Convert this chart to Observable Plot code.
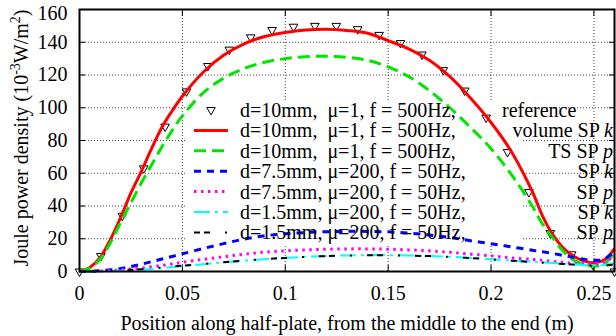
<!DOCTYPE html>
<html><head><meta charset="utf-8">
<script src="https://cdn.jsdelivr.net/npm/d3@7"></script>
<script src="https://cdn.jsdelivr.net/npm/@observablehq/plot@0.6"></script>
<style>body{margin:0;background:#fff}</style>
</head><body><div id="chart"></div>
<script>
// sampling positions (m)
const xPos = [0, 0.005, 0.01, 0.015, 0.02, 0.025, 0.03, 0.035, 0.04, 0.045, 0.05,
  0.06, 0.07, 0.08, 0.09, 0.1, 0.11, 0.12, 0.13, 0.14, 0.15, 0.16, 0.17, 0.18, 0.19, 0.2, 0.21,
  0.22, 0.225, 0.23, 0.235, 0.24, 0.245, 0.25, 0.255, 0.26];
// d=10mm, mu=1, 500Hz, volume SP k
const d10VolumeK = [0, 2.5, 8.5, 19.5, 33, 48, 61, 75, 88, 98, 107,
  121.5, 132, 139, 143.5, 146, 147.5, 148, 147.2, 145.5, 141, 136, 129, 119, 106, 91, 73,
  49, 34, 22.5, 14.5, 9.5, 6.5, 5.3, 7, 14];
// d=10mm, mu=1, 500Hz, TS SP p
const d10TSp = [0, 2, 7.5, 17.5, 30, 42, 54, 65, 76, 86, 95,
  109, 118, 124, 127.8, 130, 131.2, 131.5, 130.8, 129, 125, 119, 110.5, 100, 88, 75, 59,
  40, 29, 20.5, 12.5, 7, 4.5, 3.3, 4.5, 12];
// d=7.5mm, mu=200, 50Hz, SP k
const d75k = [0, 0.1, 0.5, 1, 1.8, 3, 4.4, 6, 7.6, 9.2, 10.8,
  14, 17, 19.8, 21.8, 23, 23.8, 24.3, 24.5, 24.5, 24.2, 23.5, 22.3, 20.8, 18.8, 17, 15,
  13, 12, 11, 9.8, 8.7, 7.5, 6.8, 7.5, 12.5];
// d=7.5mm, mu=200, 50Hz, SP p
const d75p = [0, 0.05, 0.3, 0.6, 1, 1.5, 2.1, 2.9, 3.7, 4.6, 5.6,
  7.4, 9, 10.6, 11.8, 12.6, 13.2, 13.6, 13.8, 13.8, 13.6, 13.2, 12.6, 11.7, 10.6, 9.6, 8.3,
  7.4, 6.8, 6.2, 5.6, 5.1, 4.8, 4.8, 5.8, 9.5];
// d=1.5mm, mu=200, 50Hz, SP k
const d15k = [0, 0, 0.1, 0.3, 0.5, 0.8, 1.2, 1.6, 2.1, 2.7, 3.3,
  4.4, 5.6, 6.6, 7.5, 8.3, 9, 9.5, 9.8, 10, 10, 9.8, 9.5, 9, 8.3, 7.5, 6.7,
  6, 5.6, 5.2, 4.8, 4.4, 4, 3.8, 4, 5];
// d=1.5mm, mu=200, 50Hz, SP p
const d15p = [0, 0, 0.1, 0.3, 0.6, 1, 1.4, 1.9, 2.4, 3, 3.6,
  4.6, 5.7, 6.7, 7.6, 8.3, 8.9, 9.4, 9.7, 9.9, 9.9, 9.7, 9.4, 8.9, 8.2, 7.4, 6.6,
  5.8, 5.4, 5, 4.6, 4.2, 3.8, 3.5, 3.6, 4.2];
// reference (triangles)
const refX = [0, 0.0104, 0.0208, 0.0312, 0.0416, 0.052, 0.0624, 0.0728, 0.0832, 0.0936, 0.104, 0.1144, 0.1248,
  0.1352, 0.1456, 0.156, 0.1664, 0.1768, 0.1872, 0.1976, 0.208, 0.2184, 0.2288, 0.2392, 0.2496, 0.26];
const refY = [0, 9.5, 34, 63, 88.5, 110, 125.5, 135.5, 143, 147.5, 149.5, 150, 150,
  148, 144.5, 139.5, 132.5, 123, 110.5, 94, 73, 48.5, 23.5, 10.5, 4, 0];

const xTicks = [0, 0.05, 0.1, 0.15, 0.2, 0.25];
const yTicks = [0, 20, 40, 60, 80, 100, 120, 140, 160];
const yTopTick = [160];
const xGrid = [0.05, 0.1, 0.15, 0.2, 0.25];
const yGrid = [20, 40, 60, 80, 100, 120, 140];

const legendLeft = ["d=10mm,  \u03bc=1, f = 500Hz,", "d=10mm,  \u03bc=1, f = 500Hz,", "d=10mm,  \u03bc=1, f = 500Hz,",
  "d=7.5mm, \u03bc=200, f = 50Hz,", "d=7.5mm, \u03bc=200, f = 50Hz,", "d=1.5mm, \u03bc=200, f = 50Hz,", "d=1.5mm, \u03bc=200, f = 50Hz,"];
const legendRight = ["reference", "volume SP ", "TS SP ", "SP ", "SP ", "SP ", "SP "];
const legendItalic = ["", "k", "p", "k", "p", "k", "p"];

const styles = [
  {values: d10VolumeK, stroke: "#ff0000", width: 3, dash: null},
  {values: d10TSp, stroke: "#00e600", width: 3, dash: "12,6"},
  {values: d75k, stroke: "#0000ff", width: 3, dash: "7,6"},
  {values: d75p, stroke: "#ff00ff", width: 3, dash: "2.5,4.5"},
  {values: d15k, stroke: "#00ffff", width: 2, dash: "16,5,3,5"},
  {values: d15p, stroke: "#000000", width: 2, dash: "6,4,6,15,2,15"}
];

const refData = refX.map((x, i) => ({x, y: refY[i]}));
const lineMarks = styles.map(s => Plot.line(xPos.map((x, i) => ({x, y: s.values[i]})), {
  x: "x", y: "y", stroke: s.stroke, strokeWidth: s.width, strokeDasharray: s.dash, curve: "catmull-rom", strokeLinecap: "butt"
}));

const font = "'Liberation Serif', 'Times New Roman', 'DejaVu Serif', serif";
const FS = 20;
const chart = Plot.plot({
  width: 616, height: 336,
  marginLeft: 79, marginRight: 2, marginTop: 9, marginBottom: 65,
  style: {fontFamily: font, fontSize: FS + "px", color: "#000", background: "#fff"},
  x: {domain: [0, 0.26], label: null},
  y: {domain: [0, 160], label: null},
  marks: [
    Plot.gridX(xGrid, {stroke: "#000", strokeOpacity: 0.75, strokeDasharray: "1,2", strokeWidth: 1}),
    Plot.gridY(yGrid, {stroke: "#000", strokeOpacity: 0.75, strokeDasharray: "1,2", strokeWidth: 1}),
    Plot.axisX(xTicks, {anchor: "bottom", tickSize: 0, tickPadding: 14, fontSize: FS, tickFormat: d => String(+d.toFixed(2)), label: null}),
    Plot.axisY(yTicks.filter(d => !yTopTick.includes(d)), {anchor: "left", tickSize: 0, tickPadding: 12, fontSize: FS, label: null}),
    Plot.axisY(yTopTick, {anchor: "left", tickSize: 0, tickPadding: 12, dy: 4, fontSize: FS, label: null}),
    Plot.axisX(xTicks, {anchor: "bottom", tickSize: -6, tickFormat: () => "", label: null}),
    Plot.axisX(xTicks, {anchor: "top", tickSize: -6, tickFormat: () => "", label: null}),
    Plot.axisY(yTicks, {anchor: "left", tickSize: -6, tickFormat: () => "", label: null}),
    Plot.axisY(yTicks, {anchor: "right", tickSize: -6, tickFormat: () => "", label: null}),
    Plot.dot(refData, {x: "x", y: "y", symbol: "triangle", rotate: 180, r: 3.2, stroke: "#000", strokeWidth: 1, fill: "none"}),
    ...lineMarks,
    Plot.frame({stroke: "#000", strokeWidth: 2}),
    Plot.text(["Position along half-plate, from the middle to the end (m)"], {frameAnchor: "bottom", dy: 52, lineAnchor: "middle", fontSize: FS})
  ]
});
document.getElementById("chart").append(chart);

// y-axis title with superscripts, legend overlay
const svg = d3.select(chart);
const yl = svg.append("text").attr("transform", "translate(28,138) rotate(-90)")
  .attr("text-anchor", "middle").style("font-family", font).style("font-size", FS + "px").attr("fill", "#000");
yl.append("tspan").text("Joule power density (10");
yl.append("tspan").attr("dy", -8).style("font-size", "14px").text("-3");
yl.append("tspan").attr("dy", 8).text("W/m");
yl.append("tspan").attr("dy", -8).style("font-size", "14px").text("2");
yl.append("tspan").attr("dy", 8).text(")");

// opaque legend box behind curves (covers grid)
const firstLine = chart.querySelector("g[aria-label='dot']");
const box = document.createElementNS("http://www.w3.org/2000/svg", "rect");
box.setAttribute("x", 185); box.setAttribute("y", 100); box.setAttribute("width", 336); box.setAttribute("height", 146);
box.setAttribute("fill", "#fff");
firstLine.parentNode.insertBefore(box, firstLine);

const lg = svg.append("g").style("font-family", font).style("font-size", FS + "px").attr("fill", "#000");
const rowY = i => 110 + i * 20.4;
legendLeft.forEach((t, i) => {
  const y = rowY(i);
  lg.append("text").attr("x", 240).attr("y", y).attr("dy", "0.35em").attr("text-anchor", "start").text(t);
  if (i === 0) {
    lg.append("text").attr("x", 502).attr("y", y).attr("dy", "0.35em").attr("text-anchor", "start").text(legendRight[i]);
    lg.append("path").attr("d", d3.symbol(d3.symbolTriangle, Math.PI * 10)()).attr("transform", `translate(211,${y}) rotate(180)`)
      .attr("fill", "none").attr("stroke", "#000").attr("stroke-width", 1);
  } else {
    const tx = lg.append("text").attr("x", 613).attr("y", y).attr("dy", "0.35em").attr("text-anchor", "end");
    tx.append("tspan").text(legendRight[i]);
    tx.append("tspan").attr("font-style", "italic").text(legendItalic[i]);
    const s = styles[i - 1];
    lg.append("line").attr("x1", 194).attr("x2", 228).attr("y1", y).attr("y2", y)
      .attr("stroke", s.stroke).attr("stroke-width", s.width).attr("stroke-dasharray", s.dash);
  }
});
</script></body></html>
